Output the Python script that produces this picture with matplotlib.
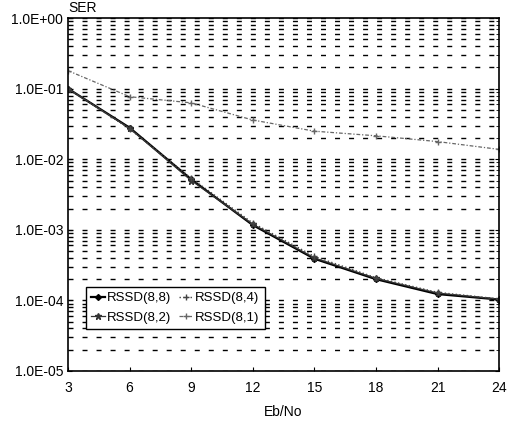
import matplotlib
matplotlib.use("Agg")
import matplotlib.pyplot as plt
import matplotlib.ticker as mticker
import numpy as np

plt.rcParams['font.family'] = ['Liberation Sans', 'DejaVu Sans']

# Eb/No values (dB)
ebno = [3, 6, 9, 12, 15, 18, 21, 24]

# SER values
ser_88 = [1.0e-1, 2.8e-2, 5.2e-3, 1.17e-3, 3.9e-4, 2.0e-4, 1.23e-4, 1.03e-4]
ser_84 = [1.0e-1, 2.7e-2, 5.4e-3, 1.25e-3, 4.2e-4, 2.1e-4, 1.30e-4, 1.05e-4]
ser_82 = [1.0e-1, 2.75e-2, 5.0e-3, 1.20e-3, 4.0e-4, 2.05e-4, 1.27e-4, 1.04e-4]
ser_81 = [1.8e-1, 7.7e-2, 6.3e-2, 3.6e-2, 2.5e-2, 2.15e-2, 1.78e-2, 1.38e-2]

labels = ["RSSD(8,8)", "RSSD(8,2)", "RSSD(8,4)", "RSSD(8,1)"]

fig = plt.figure(figsize=(5.21, 4.21), dpi=100)
ax = fig.add_axes([0.1305, 0.1188, 0.8275, 0.8382])

l1, = ax.plot(ebno, ser_88, color='black', lw=1.6, marker='D', ms=3)
l2, = ax.plot(ebno, ser_82, color='#333333', lw=0.9, marker='*', ms=4.5)
l3, = ax.plot(ebno, ser_84, color='#444444', lw=1.0, ls=':', marker='+', ms=5)
l4, = ax.plot(ebno, ser_81, color='#666666', lw=0.9, ls=(0, (3, 1.5, 1, 1.5)), marker='+', ms=5)

ax.set_yscale('log')
ax.set_ylim(1e-5, 1)
ax.set_xlim(3, 24)
ax.set_xticks(ebno)
ax.yaxis.set_major_formatter(mticker.FuncFormatter(lambda v, p: f"{v:.1E}"))
ax.yaxis.set_minor_locator(mticker.LogLocator(base=10, subs=np.arange(2, 10)))
ax.yaxis.set_minor_formatter(mticker.NullFormatter())

# dashed horizontal grid at every decade step
ax.grid(True, which='both', axis='y', color='black', lw=1.0,
        ls=(0, (3.6, 6.5)))
ax.tick_params(which='both', direction='in', right=True, labelsize=10)
ax.tick_params(which='major', length=3)
ax.tick_params(which='minor', length=2)
ax.tick_params(axis='x', pad=7)
for s in ax.spines.values():
    s.set_linewidth(1.2)

# axis titles placed as figure text, as in the scan
fig.text(0.544, 0.021, "Eb/No", fontsize=10, ha='center', va='center')
fig.text(0.131, 0.965, "SER", fontsize=10, ha='left', va='bottom')

leg = ax.legend([l1, l2, l3, l4], labels, ncol=2, loc='lower left',
                bbox_to_anchor=(0.042, 0.119), borderaxespad=0,
                fancybox=False, edgecolor='black', framealpha=1,
                fontsize=9.5, handlelength=1.0, handletextpad=0.2,
                columnspacing=0.6, borderpad=0.4, labelspacing=0.55)
leg.get_frame().set_linewidth(1.0)

fig.savefig("out.png", dpi=100)
